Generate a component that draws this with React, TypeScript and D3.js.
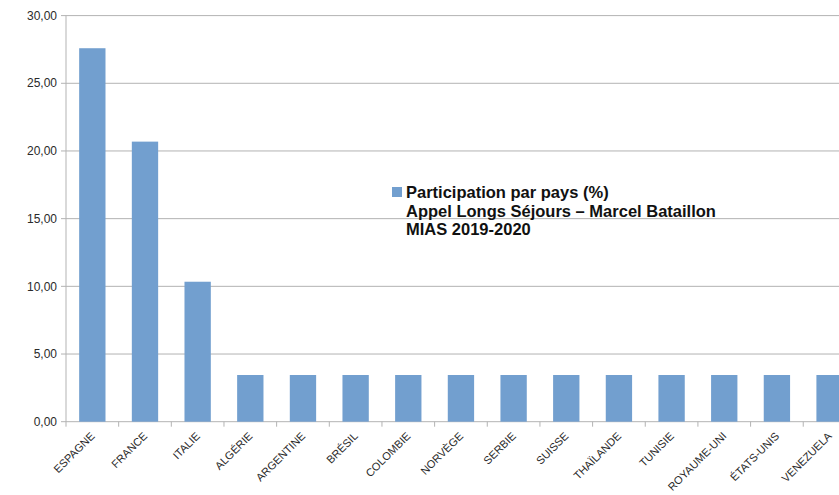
import React from "react";
import * as d3 from "d3";

const categories = ["ESPAGNE","FRANCE","ITALIE","ALGÉRIE","ARGENTINE","BRÉSIL","COLOMBIE","NORVÈGE","SERBIE","SUISSE","THAÏLANDE","TUNISIE","ROYAUME-UNI","ÉTATS-UNIS","VENEZUELA"];
const values = [27.59,20.69,10.34,3.45,3.45,3.45,3.45,3.45,3.45,3.45,3.45,3.45,3.45,3.45,3.45];
const yTicks = [0,5,10,15,20,25,30];
const legendLines = ["Participation par pays (%)","Appel Longs Séjours – Marcel Bataillon","MIAS 2019-2020"];

export default function App() {
  const W = 839, H = 495;
  const x0 = 66, x1 = 66 + 15 * 52.66;
  const x = d3.scaleBand<string>().domain(categories).range([x0, x1]).paddingInner(0.5).paddingOuter(0.25);
  const xb = d3.scaleBand<string>().domain(categories).range([x0, x1]);
  const y = d3.scaleLinear().domain([0, 30]).range([421.7, 15.6]);
  const fmt = (v: number) => v.toFixed(2).replace(".", ",");
  const font = "'Liberation Sans', Arial, sans-serif";
  return (
    <svg width={W} height={H} style={{ position: "absolute", left: 0, top: 0, background: "#fff" }} fontFamily={font}>
      {yTicks.map(t => (
        <g key={t}>
          <line x1={x0 - 5} x2={W} y1={y(t)} y2={y(t)} stroke="#b3b3b3" strokeWidth={1} />
          <text x={57} y={y(t)} dy="0.35em" textAnchor="end" fontSize={12} fill="#2a2a2a">{fmt(t)}</text>
        </g>
      ))}
      <line x1={x0} x2={x0} y1={y(30)} y2={y(0) + 5} stroke="#b3b3b3" />
      {categories.map((c, i) => (
        <rect key={c} x={x(c)} y={y(values[i])} width={x.bandwidth()} height={y(0) - y(values[i])} fill="#729fcf" />
      ))}
      {categories.map(c => (
        <line key={"t" + c} x1={(xb(c) as number) + xb.bandwidth()} x2={(xb(c) as number) + xb.bandwidth()} y1={y(0)} y2={y(0) + 5} stroke="#b3b3b3" />
      ))}
      {categories.map(c => {
        const cx = (xb(c) as number) + xb.bandwidth() / 2 + 3;
        const cy = y(0) + 15;
        return (
          <text key={"l" + c} x={cx} y={cy} transform={`rotate(-45 ${cx} ${cy})`} textAnchor="end" fontSize={11} fill="#2a2a2a">{c}</text>
        );
      })}
      <rect x={392} y={187} width={10} height={10} fill="#729fcf" />
      {legendLines.map((l, i) => (
        <text key={i} x={406} y={198 + i * 18.5} fontSize={16.5} fontWeight="bold" fill="#111">{l}</text>
      ))}
    </svg>
  );
}
